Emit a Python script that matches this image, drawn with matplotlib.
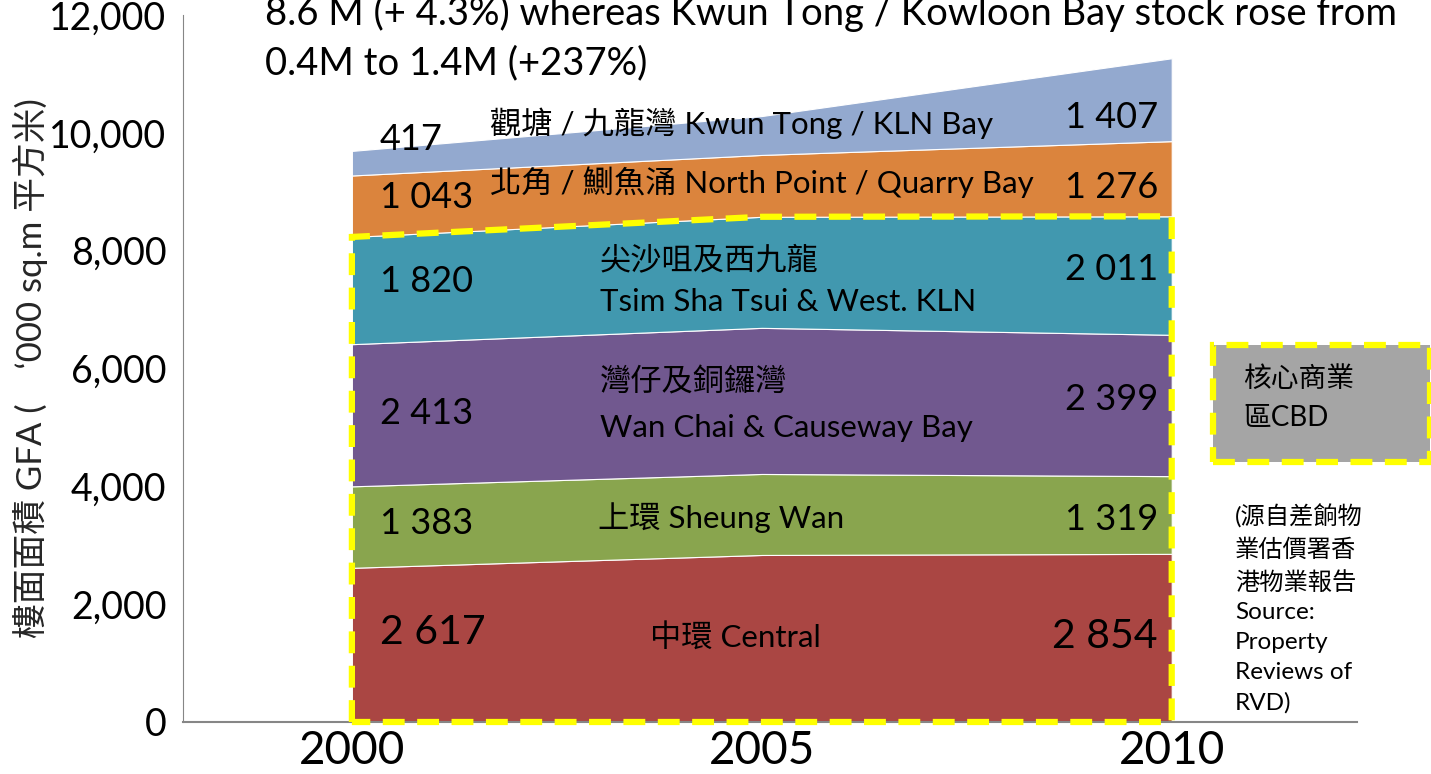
import matplotlib
matplotlib.use("Agg")
import matplotlib.pyplot as plt
from matplotlib.patches import Polygon, Rectangle

# --- Data ('000 sq.m GFA) ---
years = [2000, 2005, 2010]
central = [2617, 2835, 2854]
sheung_wan = [1383, 1375, 1319]
wan_chai = [2413, 2480, 2399]
tst = [1820, 1885, 2011]
north_point = [1043, 1050, 1276]
kwun_tong = [417, 660, 1407]

series = [central, sheung_wan, wan_chai, tst, north_point, kwun_tong]
colors = ["#AA4643", "#89A54E", "#71588F", "#4198AF", "#DB843D", "#93A9CF"]

W, H = 1431, 774
LATIN = ["Lato", "Noto Sans CJK TC", "DejaVu Sans"]


def fp(x, y):
    # reference pixel -> figure fraction
    return x / W, 1 - y / H


fig = plt.figure(figsize=(W / 100, H / 100), dpi=100)
ax = fig.add_axes([183 / W, 1 - 722 / H, (1357 - 183) / W, (722 - 15) / H])

ax.stackplot(years, *series, colors=colors, edgecolor="white", linewidth=0.8)

ax.set_xlim(1997.94, 2012.26)
ax.set_ylim(0, 12000)
ax.set_xticks(years)
ax.set_xticklabels([str(y) for y in years], fontsize=33, family=LATIN)
ax.set_yticks(range(0, 12001, 2000))
ax.set_yticklabels([f"{v:,}" for v in range(0, 12001, 2000)], fontsize=27, family=LATIN)
ax.tick_params(axis="both", length=0)
ax.tick_params(axis="y", pad=12)
ax.tick_params(axis="x", pad=6)
for s in ["top", "right"]:
    ax.spines[s].set_visible(False)
ax.spines["left"].set_color("#868686")
ax.spines["bottom"].set_color("#868686")
ax.spines["bottom"].set_linewidth(1.5)

# CBD outline (yellow dashed) around the lower four layers
cbd_top = [a + b + c + d for a, b, c, d in zip(central, sheung_wan, wan_chai, tst)]
outline = [(years[0], 0)] + list(zip(years, cbd_top)) + [(years[-1], 0)]
ax.add_patch(Polygon(outline, closed=True, fill=False, edgecolor="#FFFF00",
                     linewidth=4.5, linestyle=(0, (3.5, 2)), clip_on=False, zorder=5))

fig.text(*fp(30, 368), "樓面面積 GFA (\u3000‘000 sq.m 平方米)", rotation=90,
         ha="center", va="center", fontsize=25, family=LATIN, color="#262626")

# top note (cut off at the top edge in the original)
fig.text(*fp(265, 13), "8.6 M (+ 4.3%) whereas Kwun Tong / Kowloon Bay stock rose from",
         ha="left", va="center", fontsize=27.5, family=LATIN)
fig.text(*fp(265, 63), "0.4M to 1.4M (+237%)", ha="left", va="center", fontsize=27.5, family=LATIN)

# value labels
left_vals = [(140, "417", 26), (198, "1 043", 26), (282, "1 820", 26),
             (413, "2 413", 26), (523, "1 383", 26), (632, "2 617", 29.5)]
right_vals = [(118, "1 407", 26), (187, "1 276", 26), (270, "2 011", 26),
              (400, "2 399", 26), (520, "1 319", 26), (637, "2 854", 29.5)]
for y, t, fs in left_vals:
    fig.text(*fp(380, y), t, ha="left", va="center", fontsize=fs, family=LATIN)
for y, t, fs in right_vals:
    fig.text(*fp(1158, y), t, ha="right", va="center", fontsize=fs, family=LATIN)

# series labels
names = [(490, 123, "觀塘 / 九龍灣 Kwun Tong / KLN Bay"),
         (490, 182, "北角 / 鰂魚涌 North Point / Quarry Bay"),
         (600, 260, "尖沙咀及西九龍"),
         (600, 302, "Tsim Sha Tsui & West. KLN"),
         (600, 382, "灣仔及銅鑼灣"),
         (600, 428, "Wan Chai & Causeway Bay"),
         (598, 518, "上環 Sheung Wan"),
         (650, 637, "中環 Central")]
for x, y, t in names:
    fig.text(*fp(x, y), t, ha="left", va="center", fontsize=22.5, family=LATIN)

# CBD key box
x0, y0 = fp(1213, 462)
x1, y1 = fp(1430, 345)
fig.patches.append(Rectangle((x0, y0), x1 - x0, y1 - y0, transform=fig.transFigure,
                             facecolor="#A5A5A5", edgecolor="#FFFF00", linewidth=4.5,
                             linestyle=(0, (3.5, 2)), figure=fig))
fig.text(*fp(1243, 398), "核心商業\n區CBD", ha="left", va="center", fontsize=20,
         family=LATIN, linespacing=1.55)

fig.text(*fp(1235, 609), "(源自差餉物\n業估價署香\n港物業報告\nSource:\nProperty\nReviews of\nRVD)",
         ha="left", va="center", fontsize=17.5, family=LATIN, linespacing=1.52)

fig.savefig("out.png", dpi=100)
